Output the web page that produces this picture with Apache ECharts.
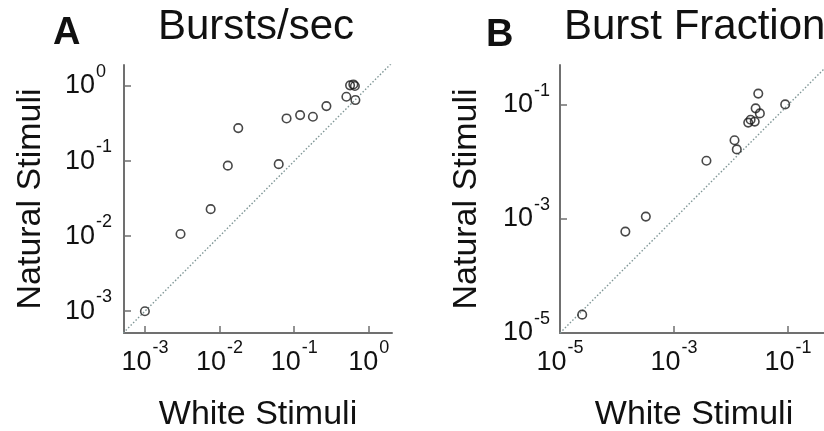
<!DOCTYPE html>
<html><head><meta charset="utf-8">
<script src="https://cdn.jsdelivr.net/npm/echarts@6/dist/echarts.min.js"></script>
<style>html,body{margin:0;padding:0;background:#fff}#c{width:824px;height:431px}</style>
</head><body><div id="c"></div>
<script>
// Panel A: Bursts/sec
const aWhite   = [0.001, 0.003, 0.0076, 0.0129, 0.0178, 0.062, 0.079, 0.12, 0.178, 0.27, 0.50, 0.56, 0.62, 0.65, 0.66];
const aNatural = [0.001, 0.0107, 0.0229, 0.087, 0.275, 0.091, 0.37, 0.41, 0.39, 0.54, 0.72, 1.02, 1.05, 1.0, 0.65];
// Panel B: Burst Fraction
const bWhite   = [2.45e-5, 1.4e-4, 3.2e-4, 3.7e-3, 0.0115, 0.0126, 0.020, 0.022, 0.026, 0.027, 0.032, 0.030, 0.089];
const bNatural = [2.1e-5, 6.0e-4, 1.1e-3, 0.0105, 0.024, 0.0166, 0.049, 0.055, 0.051, 0.087, 0.071, 0.158, 0.102];
// tick exponents (labels 10^n)
const aTicks = [-3, -2, -1, 0];
const bTicks = [-5, -3, -1];
const titles = ['Bursts/sec', 'Burst Fraction'];
const panelLetters = ['A', 'B'];
const xName = 'White Stimuli';
const yName = 'Natural Stimuli';

const FONT = '"Liberation Sans", Arial, sans-serif';
const TXT = '#111';
const AX = '#707070';

const pts = (xs, ys) => xs.map((x, i) => [Math.log10(x), Math.log10(ys[i])]);
const fmt = v => '{b|10}{s|' + Math.round(v) + '}';

const rich = {
  b: {fontSize: 27, lineHeight: 27, fontFamily: FONT, color: TXT, verticalAlign: 'middle'},
  s: {fontSize: 18, lineHeight: 18, fontFamily: FONT, color: TXT, verticalAlign: 'middle', padding: [0, 0, 28, 1]}
};

const ranges = [
  {x: [-3.28, 0.31], y: [-3.29, 0.28], ticks: aTicks, ym: 59},
  {x: [-5, -0.30], y: [-5, -0.30], ticks: bTicks, ym: 57}
];

function xAxis(i) {
  const r = ranges[i];
  return {
    type: 'value', gridIndex: i, min: r.x[0], max: r.x[1],
    name: xName, nameLocation: 'middle', nameGap: 65,
    nameTextStyle: {fontSize: 34, fontFamily: FONT, color: TXT},
    axisLine: {show: true, onZero: false, lineStyle: {color: AX, width: 2}},
    axisTick: {show: true, inside: true, length: 7, customValues: r.ticks, lineStyle: {color: AX, width: 1.5}},
    axisLabel: {customValues: r.ticks, margin: 16, formatter: fmt, rich: rich, showMinLabel: true, showMaxLabel: true},
    splitLine: {show: false}
  };
}
function yAxis(i) {
  const r = ranges[i];
  return {
    type: 'value', gridIndex: i, min: r.y[0], max: r.y[1],
    name: yName, nameLocation: 'middle', nameGap: 76,
    nameTextStyle: {fontSize: 34, fontFamily: FONT, color: TXT},
    axisLine: {show: true, onZero: false, lineStyle: {color: AX, width: 2}},
    axisTick: {show: true, inside: true, length: 7, customValues: r.ticks, lineStyle: {color: AX, width: 1.5}},
    axisLabel: {customValues: r.ticks, margin: r.ym, align: 'left', formatter: fmt, rich: rich, showMinLabel: true, showMaxLabel: true},
    splitLine: {show: false}
  };
}
function diag(i) {
  const r = ranges[i];
  const lo = Math.min(r.x[0], r.y[0]), hi = Math.max(r.x[1], r.y[1]);
  return {
    type: 'line', xAxisIndex: i, yAxisIndex: i, data: [[lo, lo], [hi, hi]],
    symbol: 'none', silent: true, clip: true, z: 1,
    lineStyle: {color: '#7f9696', width: 1.4, type: [1.5, 2]}
  };
}
function scatter(i, data) {
  return {
    type: 'scatter', xAxisIndex: i, yAxisIndex: i, data: data,
    symbol: 'circle', symbolSize: 8.5, z: 3,
    itemStyle: {color: 'rgba(0,0,0,0)', borderColor: '#1a1a1a', borderWidth: 1.6}
  };
}

const chart = echarts.init(document.getElementById('c'), null, {renderer: 'canvas'});
chart.setOption({
  backgroundColor: '#fff',
  animation: false,
  grid: [
    {left: 124, top: 65, width: 268, height: 268, containLabel: false, outerBoundsMode: 'none'},
    {left: 560, top: 65, width: 268, height: 268, containLabel: false, outerBoundsMode: 'none'}
  ],
  xAxis: [xAxis(0), xAxis(1)],
  yAxis: [yAxis(0), yAxis(1)],
  series: [diag(0), scatter(0, pts(aWhite, aNatural)), diag(1), scatter(1, pts(bWhite, bNatural))],
  graphic: [
    {type: 'text', x: 53, y: 34, style: {text: panelLetters[0], font: 'bold 38px ' + FONT, fill: TXT, verticalAlign: 'middle'}},
    {type: 'text', x: 158, y: 27, style: {text: titles[0], font: '42px ' + FONT, fill: TXT, verticalAlign: 'middle'}},
    {type: 'text', x: 486, y: 36, style: {text: panelLetters[1], font: 'bold 38px ' + FONT, fill: TXT, verticalAlign: 'middle'}},
    {type: 'text', x: 564, y: 27, style: {text: titles[1], font: '42px ' + FONT, fill: TXT, verticalAlign: 'middle'}}
  ]
});
</script>
</body></html>
